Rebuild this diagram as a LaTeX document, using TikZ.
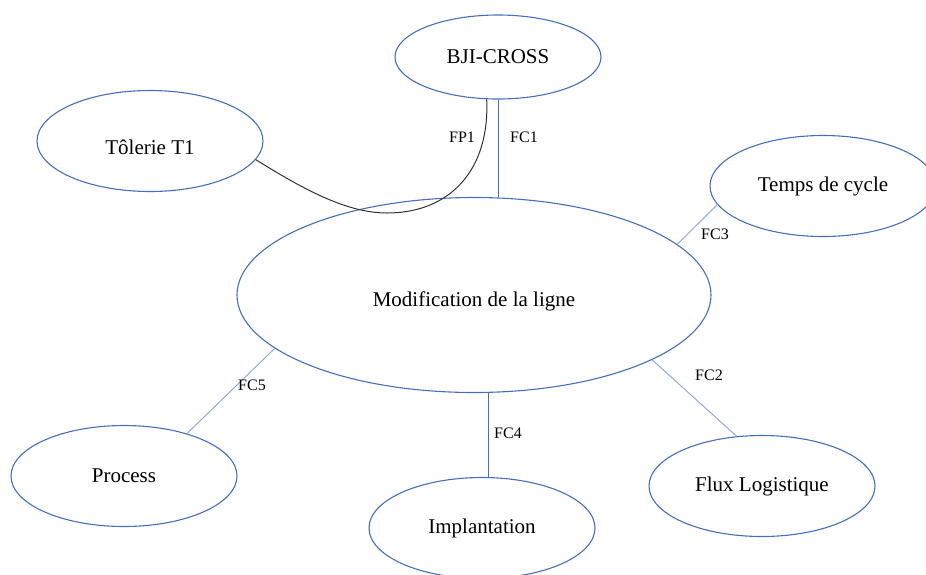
\documentclass[tikz,border=0pt]{standalone}
\usepackage{fontspec}
\setmainfont{Liberation Serif}
\usepackage{xcolor}
\usetikzlibrary{shapes.geometric}
\definecolor{bord}{RGB}{70,110,190}
\definecolor{liensclair}{RGB}{143,170,220}

\begin{document}
\begin{tikzpicture}[x=1pt,y=-1pt,
bulle/.style={ellipse,draw=bord,line width=1.1pt,inner sep=0pt,minimum width=226pt,minimum height=101pt,font=\fontsize{21}{25}\selectfont},
lien/.style={draw=bord,line width=1pt},
lienclair/.style={draw=liensclair,line width=1pt},
etiq/.style={inner sep=0pt,font=\fontsize{16}{19}\selectfont}
]
\useasboundingbox (0,0) rectangle (926,574);
\node[bulle,minimum width=206pt,minimum height=84pt] (bji) at (498,57) {BJI-CROSS};
\node[bulle,text height=27pt,text depth=0pt] (tol) at (150,141) {Tôlerie T1};
\node[bulle,minimum width=474pt,minimum height=195pt,text height=28pt,text depth=4.6pt] (centre) at (474,295) {Modification de la ligne};
\node[bulle] (temps) at (823,186) {Temps de cycle};
\node[bulle] (proc) at (124,476) {Process};
\node[bulle] (impl) at (482,528) {Implantation};
\node[bulle] (flux) at (762,486) {Flux Logistique};
\coordinate (fpbas) at (387,213);
% FP1
\draw[line width=1pt,black!80] (tol.-10) .. controls (300,187) and (345,213) .. (fpbas)
  .. controls (450,213) and (490,170) .. (bji.-105);
% FC
\draw[lien] (bji.south) -- (bji.south |- centre.north);
\draw[lien] ([xshift=6pt]impl.north) -- ([xshift=6pt]impl.north |- centre.south);
\draw[lienclair] (temps.190) -- (centre.14);
\draw[lienclair] (centre.195) -- (proc.34);
\draw[lienclair] (centre.-20) -- (flux.117);
\node[etiq] (lfp1) at (462,137) {FP1};
\node[etiq] (lfc1) at (524,137) {FC1};
\node[etiq] (lfc3) at (715,234) {FC3};
\node[etiq] (lfc4) at (508,433) {FC4};
\node[etiq] (lfc5) at (252,385) {FC5};
\node[etiq] (lfc2) at (709,375) {FC2};
\end{tikzpicture}
\end{document}
